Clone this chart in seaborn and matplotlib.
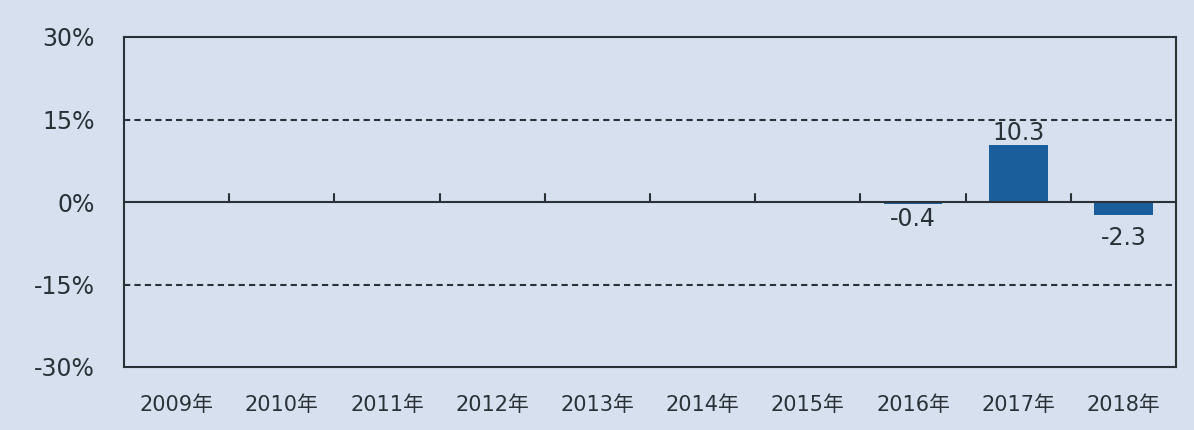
import numpy as np
import pandas as pd
import seaborn as sns
import matplotlib.pyplot as plt

# yearly change (%), only the last three years have values
years = ["2009年", "2010年", "2011年", "2012年", "2013年",
         "2014年", "2015年", "2016年", "2017年", "2018年"]
change = [np.nan, np.nan, np.nan, np.nan, np.nan,
          np.nan, np.nan, -0.4, 10.3, -2.3]
yticks = [-30, -15, 0, 15, 30]

df = pd.DataFrame({"year": years, "change": change})

bg = "#d6e0ef"
dark = "#2b3237"
bar_color = "#1a5f9c"

sns.set_style("white")
plt.rcParams['font.family'] = ['DejaVu Sans', 'Noto Sans CJK JP']

fig = plt.figure(figsize=(11.94, 4.30), dpi=100, facecolor=bg)
ax = fig.add_axes([124 / 1194, 63 / 430, 1052 / 1194, 330 / 430])
ax.set_facecolor(bg)

sns.barplot(data=df, x="year", y="change", order=years, color=bar_color,
            width=0.56, saturation=1, edgecolor=bar_color, linewidth=0, ax=ax)

ax.set_ylim(-30, 30)
ax.set_xlim(-0.5, len(years) - 0.5)
ax.set_yticks(yticks)
ax.set_yticklabels([f"{t}%" for t in yticks])
ax.set_xlabel("")
ax.set_ylabel("")

# gridlines at +-15, solid zero line
for y in [-15, 15]:
    ax.axhline(y, color=dark, lw=1.5, ls=(0, (3, 2)), zorder=0)
ax.axhline(0, color=dark, lw=1.5, zorder=3)

# small upward ticks on the zero line between categories
for b in np.arange(0.5, len(years) - 1, 1.0):
    ax.plot([b, b], [0, 1.4], color=dark, lw=1.5, zorder=3)

for s in ax.spines.values():
    s.set_color(dark)
    s.set_linewidth(1.5)
    s.set_visible(True)

ax.tick_params(axis="both", length=0, colors=dark)
ax.tick_params(axis="y", pad=21, labelsize=17)
ax.tick_params(axis="x", pad=20, labelsize=15)

# value labels
for i, v in enumerate(change):
    if np.isnan(v):
        continue
    if v >= 0:
        ax.text(i, v + 0.1, f"{v:.1f}", ha="center", va="bottom",
                fontsize=17, color=dark)
    else:
        off = 0.5 if abs(v) < 1 else 2.0
        ax.text(i, v - off, f"{v:.1f}", ha="center", va="top",
                fontsize=17, color=dark)

fig.savefig("out.png", dpi=100, facecolor=bg)
